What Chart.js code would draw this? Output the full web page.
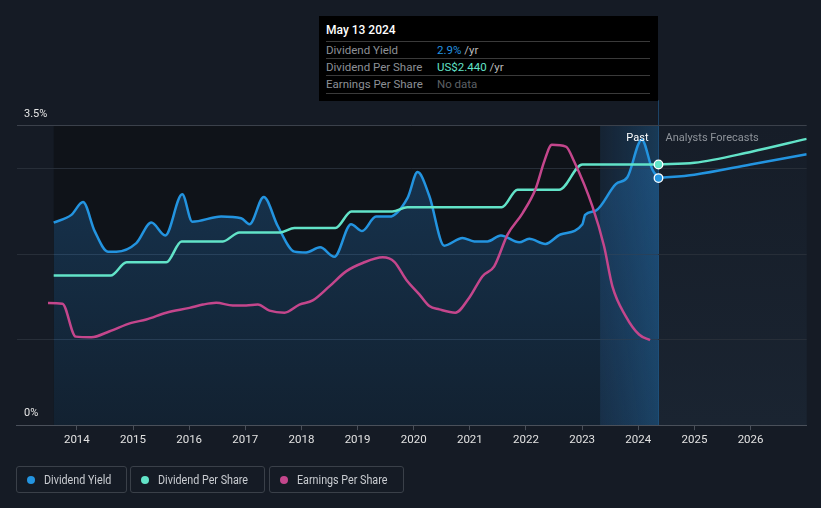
<!DOCTYPE html>
<html><head><meta charset="utf-8">
<script src="https://cdn.jsdelivr.net/npm/chart.js@4.4.1/dist/chart.umd.min.js"></script>
<style>
html,body{margin:0;padding:0;background:#151b25;width:821px;height:508px;overflow:hidden;font-family:Roboto,"Noto Sans",sans-serif;}
#wrap{position:relative;width:821px;height:508px;}
#c{position:absolute;left:0;top:0;}
#tip{position:absolute;left:319px;top:16px;width:339px;height:85px;background:#000;box-sizing:border-box;padding:0 8px 0 7px;}
#tip .title{position:absolute;left:7px;top:6px;height:17px;line-height:17px;color:#fff;font-size:12px;font-weight:500;}
#tip .row{position:absolute;left:7px;right:8px;height:17px;line-height:17px;border-top:1px solid #3a3a3a;font-size:11.5px;color:#8d9096;}
#tip .row span.l{display:inline-block;width:111px;}
#tip .last{border-bottom:1px solid #3a3a3a;}
.leg{position:absolute;top:466px;height:27px;box-sizing:border-box;border:1px solid #3a4049;border-radius:3px;color:#c9ccd1;font-family:Roboto,sans-serif;font-size:12.5px;line-height:25px;}
.leg i{position:absolute;left:10px;top:9px;width:8px;height:8px;border-radius:50%;}
.leg span{position:absolute;left:27px;top:0;white-space:nowrap;transform:scaleX(0.86);transform-origin:0 50%;}
</style></head>
<body><div id="wrap">
<canvas id="c" width="821" height="508"></canvas>
<div id="tip">
  <div class="title">May 13 2024</div>
  <div class="row" style="top:25px"><span class="l">Dividend Yield</span><span style="color:#2394e0">2.9%</span><span style="color:#bbb"> /yr</span></div>
  <div class="row" style="top:42px"><span class="l">Dividend Per Share</span><span style="color:#62e3c8">US$2.440</span><span style="color:#bbb"> /yr</span></div>
  <div class="row last" style="top:59px"><span class="l">Earnings Per Share</span><span style="color:#5d6066">No data</span></div>
</div>
<div class="leg" style="left:16px;width:111px"><i style="background:#2394e0"></i><span>Dividend Yield</span></div>
<div class="leg" style="left:130px;width:135px"><i style="background:#62e3c8"></i><span>Dividend Per Share</span></div>
<div class="leg" style="left:269px;width:135px"><i style="background:#c4468c"></i><span>Earnings Per Share</span></div>
</div>
<script>
// ---- data (x in decimal years) ----
const yieldX = [2013.587,2013.902,2014.109,2014.317,2014.553,2014.703,2015.059,2015.326,2015.575,2015.877,2016.055,2016.571,2016.927,2017.075,2017.329,2017.578,2017.875,2018.084,2018.333,2018.587,2018.884,2019.080,2019.329,2019.566,2019.891,2020.069,2020.278,2020.544,2020.870,2021.078,2021.315,2021.553,2021.879,2022.057,2022.345,2022.612,2023.005,2023.053,2023.244,2023.600,2023.806,2024.062,2024.251,2024.36];
const yieldY = [2.37,2.46,2.61,2.27,2.03,2.03,2.13,2.37,2.22,2.70,2.38,2.44,2.42,2.35,2.67,2.33,2.03,2.02,2.08,1.97,2.35,2.27,2.44,2.44,2.66,2.96,2.68,2.10,2.19,2.15,2.15,2.22,2.14,2.18,2.12,2.23,2.35,2.46,2.51,2.82,2.90,3.34,2.99,2.89];
const yieldFcX = [2024.36,2025.0,2026.0,2027.0];
const yieldFcY = [2.89,2.93,3.05,3.17];
const dpsX = [2013.587,2014.601,2014.886,2015.593,2015.865,2016.600,2016.897,2017.626,2017.875,2018.605,2018.890,2019.619,2019.886,2021.571,2021.849,2022.591,2023.005,2024.36];
const dpsY = [1.40,1.40,1.524,1.524,1.72,1.72,1.804,1.804,1.845,1.845,2.0,2.0,2.04,2.04,2.203,2.203,2.44,2.44];
const dpsFcX = [2024.36,2025.0,2026.0,2027.0];
const dpsFcY = [2.44,2.455,2.557,2.679];
const epsX = [2013.486,2013.742,2013.979,2014.258,2014.584,2014.970,2015.237,2015.593,2016.007,2016.244,2016.482,2016.778,2017.016,2017.222,2017.431,2017.698,2017.964,2018.201,2018.498,2018.795,2019.091,2019.447,2019.655,2019.863,2020.100,2020.278,2020.456,2020.740,2020.989,2021.226,2021.434,2021.671,2021.940,2022.176,2022.324,2022.461,2022.710,2022.858,2023.183,2023.391,2023.539,2023.778,2024.014,2024.210];
const epsY = [4.08,4.06,2.96,2.94,3.14,3.42,3.53,3.76,3.92,4.03,4.09,4.00,4.00,4.03,3.83,3.76,4.03,4.17,4.64,5.14,5.42,5.61,5.46,4.87,4.37,3.98,3.87,3.76,4.26,4.98,5.31,6.37,7.09,7.92,8.81,9.37,9.31,8.81,7.31,5.98,4.64,3.64,3.03,2.84];
const yearTicks = [2014,2015,2016,2017,2018,2019,2020,2021,2022,2023,2024,2025,2026];
const yTickLabels = ['0%','3.5%'];
const pastStart = 2013.587, highlightStart = 2023.32, today = 2024.36;

const BLUE='#2394e0', TEAL='#62e3c8', PINK='#c4468c';
const pts = (xs, ys) => xs.map((x,i)=>({x, y: ys[i]}));
const TOPF = 3.8/3.5;

const bgPlugin = {
  id:'bg',
  beforeDraw(chart){
    const {ctx, chartArea:ca, scales:{x,y}} = chart;
    const xp = v => x.getPixelForValue(v);
    const top = y.getPixelForValue(3.5);
    ctx.save();
    ctx.fillStyle = '#0f1319';
    ctx.fillRect(xp(pastStart), top, xp(highlightStart)-xp(pastStart), ca.bottom - top);
    let g = ctx.createLinearGradient(0, top, 0, ca.bottom);
    g.addColorStop(0,'#161d28'); g.addColorStop(1,'#1a2431');
    ctx.fillStyle = g;
    ctx.fillRect(xp(today), top, ca.right - xp(today), ca.bottom-top);
    g = ctx.createLinearGradient(xp(highlightStart),0,xp(today),0);
    g.addColorStop(0,'rgba(30,110,180,0.10)'); g.addColorStop(1,'rgba(35,130,200,0.30)');
    ctx.fillStyle = g;
    ctx.fillRect(xp(highlightStart), top, xp(today)-xp(highlightStart), ca.bottom-top);
    ctx.fillStyle = 'rgba(40,120,185,0.45)';
    ctx.fillRect(xp(today)-0.5, ca.top, 1, ca.bottom-ca.top);
    ctx.restore();
  },
  afterDraw(chart){
    const {ctx, scales:{x,y}} = chart;
    ctx.save();
    ctx.font = '11px Roboto, sans-serif';
    ctx.textBaseline = 'middle';
    ctx.fillStyle = '#e6e6e6';
    ctx.textAlign='left';
    ctx.fillText(yTickLabels[1], 24, y.getPixelForValue(3.5)-11.5);
    ctx.fillText(yTickLabels[0], 24, y.getPixelForValue(0)-11.5);
    ctx.textAlign='right';
    ctx.fillStyle='#ffffff';
    ctx.fillText('Past', x.getPixelForValue(today)-10, y.getPixelForValue(3.5)+12.5);
    ctx.textAlign='left';
    ctx.fillStyle='#8e939a';
    ctx.fillText('Analysts Forecasts', x.getPixelForValue(today)+7, y.getPixelForValue(3.5)+12.5);
    ctx.restore();
  }
};

const lineBase = {borderWidth:2.5, pointRadius:0, cubicInterpolationMode:'monotone', fill:false};
const endDot = (color) => ({
  pointRadius: c => c.dataIndex===0 ? 4.3 : 0,
  pointBackgroundColor: color, pointBorderColor:'#ffffff', pointBorderWidth:1.3
});

new Chart(document.getElementById('c'), {
  type:'line',
  data:{datasets:[
    {...lineBase, label:'EPS', data:pts(epsX,epsY), borderColor:PINK, yAxisID:'yEps', order:1},
    {...lineBase, label:'DPS', data:pts(dpsX,dpsY), borderColor:TEAL, yAxisID:'yDps', order:2},
    {...lineBase, label:'DPS fc', data:pts(dpsFcX,dpsFcY), borderColor:TEAL, yAxisID:'yDps', order:0, ...endDot(TEAL)},
    {...lineBase, label:'Yield', data:pts(yieldX,yieldY), borderColor:BLUE, yAxisID:'y', order:3, fill:'origin',
      backgroundColor: c => { const ca=c.chart.chartArea; if(!ca) return 'rgba(0,0,0,0)';
        const g=c.chart.ctx.createLinearGradient(0,ca.top,0,ca.bottom);
        g.addColorStop(0,'rgba(40,130,210,0.32)'); g.addColorStop(1,'rgba(40,130,210,0.13)'); return g; }},
    {...lineBase, label:'Yield fc', data:pts(yieldFcX,yieldFcY), borderColor:BLUE, yAxisID:'y', order:0, ...endDot(BLUE)}
  ]},
  options:{
    responsive:false, animation:false, devicePixelRatio:1,
    layout:{padding:{left:16.8, right:14.3, top:100.3, bottom:58}},
    plugins:{legend:{display:false}, tooltip:{enabled:false}},
    scales:{
      x:{type:'linear', min:2012.93, max:2027.0,
        afterBuildTicks: s => { s.ticks = yearTicks.map(v=>({value:v})); },
        ticks:{color:'#e2e2e2', font:{family:'Roboto', size:11.5}, padding:3, maxRotation:0, callback:v=>String(v)},
        grid:{drawOnChartArea:false, drawTicks:true, tickLength:5, color:'#4a505a'},
        border:{display:true, color:'#4a505a', width:1}},
      y:{min:0, max:3.8, position:'left',
        afterBuildTicks: s => { s.ticks = [0,1,2,3,3.5].map(v=>({value:v})); },
        ticks:{display:false},
        grid:{drawTicks:false, color: c => c.tick.value===3.5 ? '#3b414b' : (c.tick.value===0 ? '#4a505a' : '#272e38')},
        border:{display:false}},
      yDps:{display:false, min:0, max:2.8*TOPF},
      yEps:{display:false, min:0, max:10*TOPF}
    }
  },
  plugins:[bgPlugin]
});
</script>
</body></html>
